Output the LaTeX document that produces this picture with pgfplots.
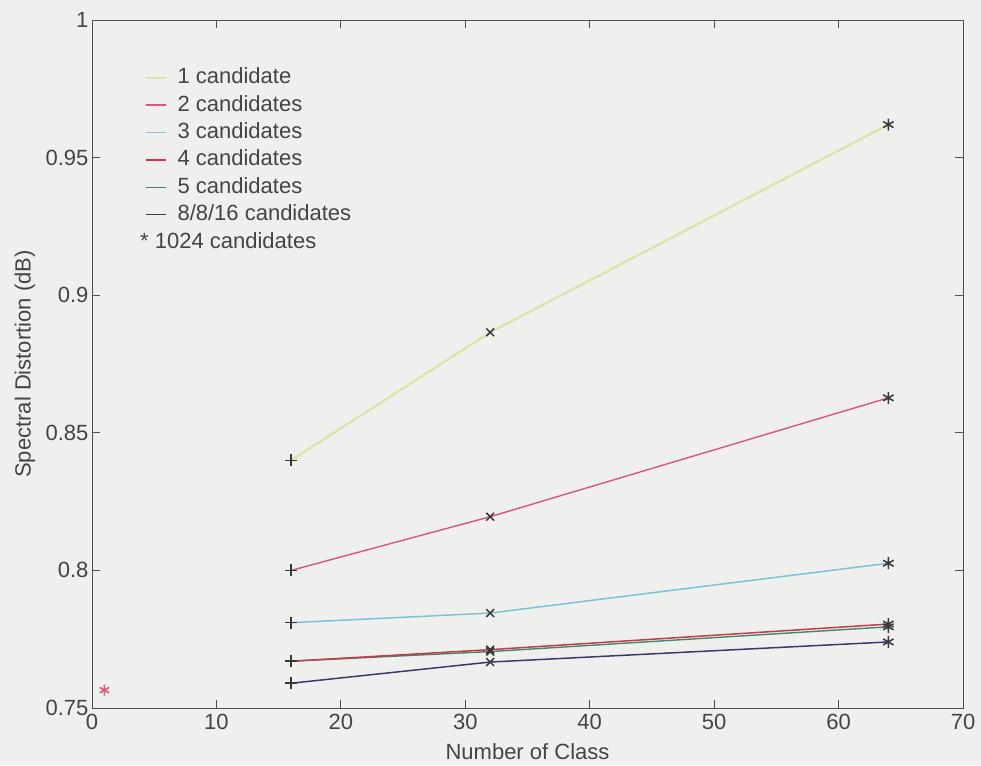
\documentclass[border=0pt]{standalone}
\usepackage{pgfplots}
\pgfplotsset{compat=1.18}
\usepackage{fontspec}
\setmainfont{Liberation Sans}
\usetikzlibrary{backgrounds}

\definecolor{bgcol}{HTML}{EFEFED}
\definecolor{axcol}{HTML}{505050}
\definecolor{txtcol}{HTML}{444444}
\definecolor{mkcol}{HTML}{383838}
\definecolor{cone}{HTML}{DCE3A6}
\definecolor{ctwo}{HTML}{D9587A}
\definecolor{cthree}{HTML}{7CC2DA}
\definecolor{cfour}{HTML}{C83A4A}
\definecolor{cfive}{HTML}{3C8A6A}
\definecolor{ceight}{HTML}{3A3A6C}
\definecolor{cstar}{HTML}{E0587A}

\begin{document}
\begin{tikzpicture}
\begin{axis}[
  name=ax,
  scale only axis,
  width=871pt, height=688pt,
  xmin=0, xmax=70, ymin=0.75, ymax=1,
  xtick={0,10,20,30,40,50,60,70},
  ytick={0.75,0.8,0.85,0.9,0.95,1},
  tick align=inside,
  major tick length=8pt,
  axis line style={draw=axcol, line width=0.9pt},
  tick style={draw=axcol, line width=0.9pt},
  font=\fontsize{22}{26}\selectfont,
  text=txtcol,
  /pgf/number format/assume math mode=true,
  yticklabel style={/pgf/number format/fixed, /pgf/number format/precision=2},
  xticklabel style={yshift=-3pt},
  xlabel={Number of Class},
  ylabel={Spectral Distortion (dB)},
  every axis x label/.style={at={(axis description cs:0.5,-0.064)}, anchor=center},
  every axis y label/.style={at={(axis description cs:-0.077,0.5)}, anchor=center, rotate=90},
  legend style={
    at={(axis description cs:0.061,0.931)}, anchor=north west,
    draw=none, fill=none, inner sep=0pt, row sep=7.4pt,
    nodes={inner sep=0pt, text height=16pt, text depth=4pt, anchor=west},
    /tikz/every odd column/.style={column sep=10pt},
  },
  legend cell align=left,
  legend image code/.code={\draw[#1] (0pt,0pt) -- (20pt,0pt);},
]

% one line per number of candidates
\addplot[cone, line width=2.2pt] coordinates {(16,0.840) (32,0.8865) (64,0.962)};
\addlegendentry{1 candidate}
\addplot[ctwo, line width=1.4pt] coordinates {(16,0.800) (32,0.8195) (64,0.8627)};
\addlegendentry{2 candidates}
\addplot[cthree, line width=1.5pt] coordinates {(16,0.781) (32,0.7845) (64,0.8026)};
\addlegendentry{3 candidates}
\addplot[cfive, line width=1.4pt, forget plot] coordinates {(16,0.767) (32,0.7705) (64,0.7795)};
\addplot[cfour, line width=1.5pt] coordinates {(16,0.767) (32,0.7712) (64,0.7805)};
\addlegendentry{4 candidates}
\addlegendimage{cfive, line width=1.5pt}
\addlegendentry{5 candidates}
\addplot[ceight, line width=1.5pt] coordinates {(16,0.759) (32,0.7667) (64,0.774)};
\addlegendentry{8/8/16 candidates}

% markers at 16, 32 and 64 classes
\addplot[only marks, mark=+, mark size=6pt, mkcol, line width=1.5pt, forget plot]
  coordinates {(16,0.840) (16,0.800) (16,0.781) (16,0.767) (16,0.759)};
\addplot[only marks, mark=x, mark size=5.5pt, mkcol, line width=1.5pt, forget plot]
  coordinates {(32,0.8865) (32,0.8195) (32,0.7845) (32,0.7712) (32,0.7705) (32,0.7667)};
\addplot[only marks, mark=asterisk, mark size=6pt, mkcol, line width=1.5pt, forget plot]
  coordinates {(64,0.962) (64,0.8627) (64,0.8026) (64,0.7805) (64,0.7795) (64,0.774)};
% full search with 1024 candidates
\addplot[only marks, mark=asterisk, mark size=5.5pt, cstar, line width=1.6pt, forget plot]
  coordinates {(1,0.7565)};

\node[anchor=west, inner sep=0pt, text=txtcol] at (axis description cs:0.0551,0.680) {* 1024 candidates};
\end{axis}
\begin{scope}[on background layer]
  \fill[bgcol] ([xshift=-92pt,yshift=-57pt]ax.south west) rectangle ([xshift=18pt,yshift=20pt]ax.north east);
\end{scope}
\end{tikzpicture}
\end{document}
